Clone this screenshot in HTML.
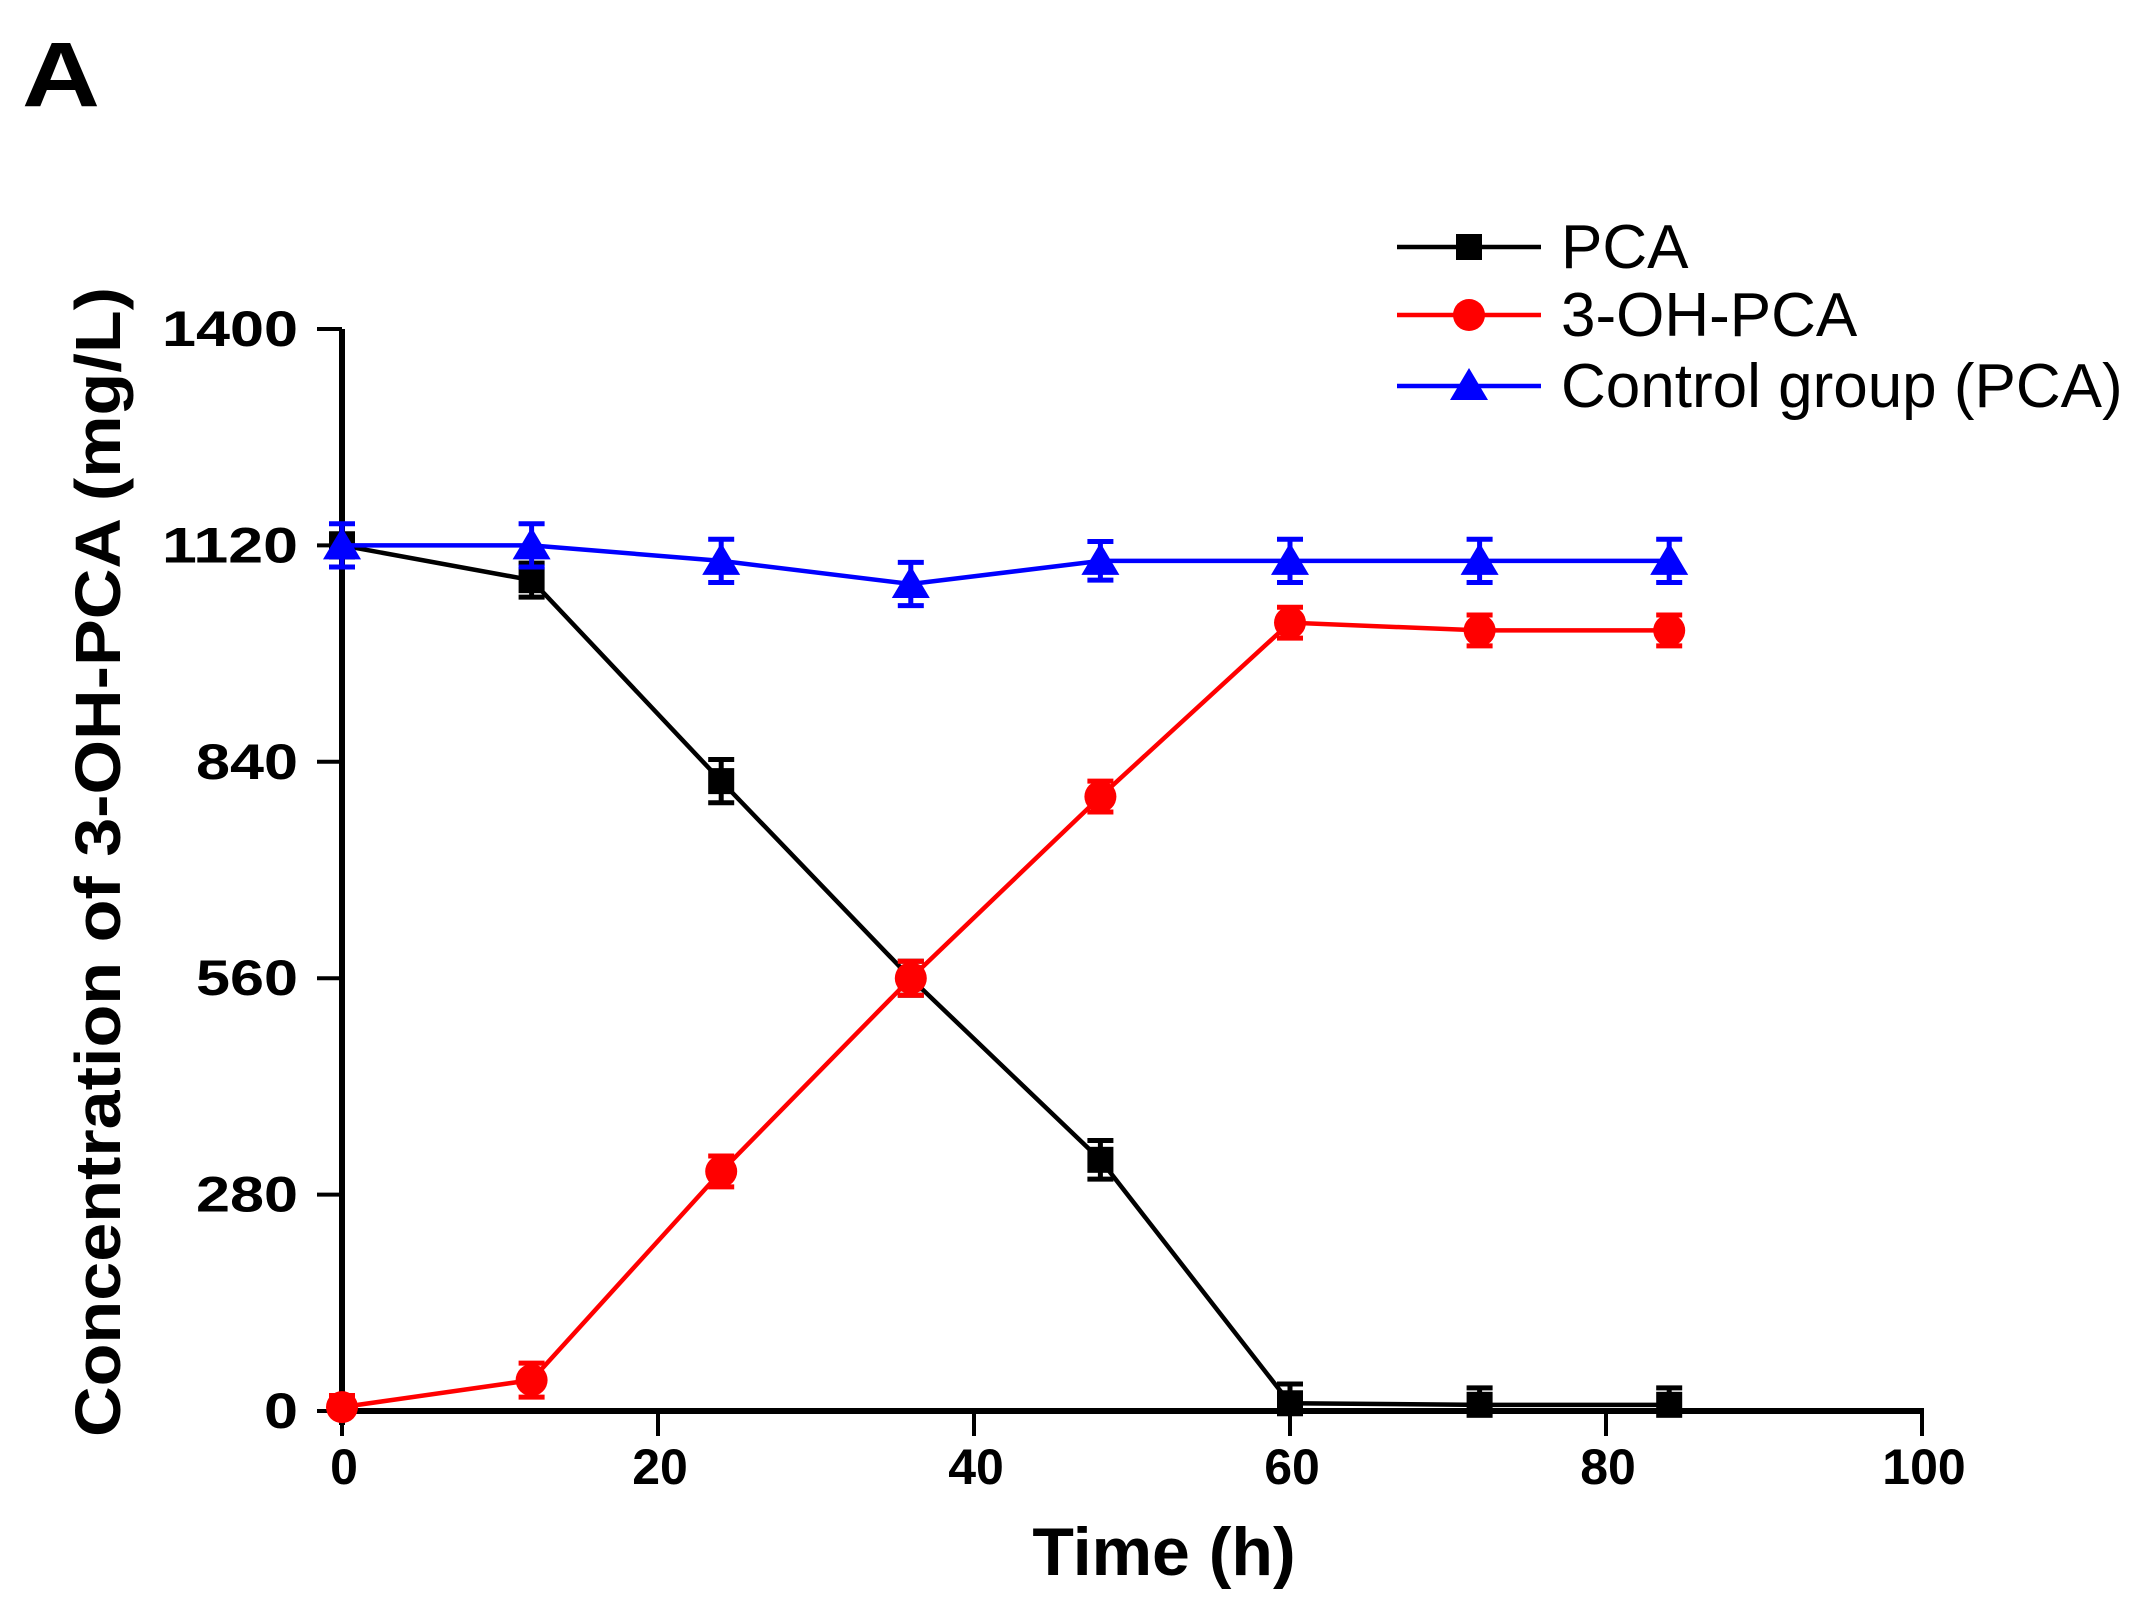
<!DOCTYPE html>
<html><head><meta charset="utf-8"><style>
html,body{margin:0;padding:0;background:#fff;}
svg{display:block;font-family:"Liberation Sans",Arial,sans-serif;}
</style></head><body>
<svg id="chart" width="2148" height="1617" viewBox="0 0 2148 1617">
<text x="22" y="106" font-size="92" font-weight="bold" textLength="78" lengthAdjust="spacingAndGlyphs">A</text>
<g id="axes"></g>
<g id="series"></g>
<g id="legend"></g>
</svg>
<script>
const times = [0, 12, 24, 36, 48, 60, 72, 84];
const pcaValues = [1120, 1075, 815, 560, 325, 10, 8, 8];
const pcaErrors = [15, 22, 28, 22, 25, 25, 22, 22];
const ohValues = [5, 40, 310, 560, 795, 1020, 1010, 1010];
const ohErrors = [15, 22, 20, 22, 20, 20, 20, 20];
const ctrlValues = [1120, 1120, 1100, 1070, 1100, 1100, 1100, 1100];
const ctrlErrors = [28, 28, 28, 28, 25, 28, 28, 28];
const yTicks = [0, 280, 560, 840, 1120, 1400];
const xTicks = [0, 20, 40, 60, 80, 100];
const legendLabels = ["PCA", "3-OH-PCA", "Control group (PCA)"];

const NS = "http://www.w3.org/2000/svg";
const X0 = 342, X1 = 1922, Y0 = 1411, Y1 = 329;
const xs = v => X0 + (v / 100) * (X1 - X0);
const ys = v => Y0 - (v / 1400) * (Y0 - Y1);
function mk(tag, attrs, parent) {
  const e = document.createElementNS(NS, tag);
  for (const k in attrs) e.setAttribute(k, attrs[k]);
  parent.appendChild(e);
  return e;
}
const axes = document.getElementById('axes');
const ser = document.getElementById('series');
const leg = document.getElementById('legend');

let a = mk('line', {x1: X0, y1: Y1, x2: X0, y2: Y0 + 14, stroke: '#000', 'stroke-width': 6}, axes);


a = mk('line', {x1: X0 - 14, y1: Y0, x2: X1 + 2, y2: Y0, stroke: '#000', 'stroke-width': 6}, axes);



yTicks.forEach(v => {
  const y = ys(v);
  const t = mk('line', {x1: X0 - 25, y1: y, x2: X0, y2: y, stroke: '#000', 'stroke-width': 4}, axes);
  
  
  const l = mk('text', {x: 298, y: y + 17, 'font-size': 50, 'font-weight': 'bold', 'text-anchor': 'end', textLength: String(v).length * 34, lengthAdjust: 'spacingAndGlyphs'}, axes);
  l.textContent = v;
  
  
});
xTicks.forEach(v => {
  const x = xs(v);
  const t = mk('line', {x1: x, y1: Y0, x2: x, y2: Y0 + 25, stroke: '#000', 'stroke-width': 4}, axes);
  
  
  const l = mk('text', {x: x + 2, y: 1484, 'font-size': 50, 'font-weight': 'bold', 'text-anchor': 'middle'}, axes);
  l.textContent = v;
  
  
});
let tt = mk('text', {x: 1164, y: 1575, 'font-size': 68, 'font-weight': 'bold', 'text-anchor': 'middle'}, axes);
tt.textContent = 'Time (h)';


tt = mk('text', {x: 0, y: 0, 'font-size': 64, 'font-weight': 'bold', 'text-anchor': 'middle', transform: 'translate(120,862) rotate(-90)', textLength: 1150, lengthAdjust: 'spacingAndGlyphs'}, axes);
tt.textContent = 'Concentration of 3-OH-PCA (mg/L)';



function marker(kind, cx, cy, color, parent) {
  let m;
  if (kind === 'square') m = mk('rect', {x: cx - 13, y: cy - 13, width: 26, height: 26, fill: color}, parent);
  else if (kind === 'circle') m = mk('circle', {cx: cx, cy: cy, r: 16, fill: color}, parent);
  else m = mk('polygon', {points: `${cx},${cy - 18} ${cx - 19},${cy + 14} ${cx + 19},${cy + 14}`, fill: color}, parent);
  return m;
}
const series = [
  {name: 'pca', vals: pcaValues, errs: pcaErrors, color: '#000', kind: 'square'},
  {name: 'oh-pca', vals: ohValues, errs: ohErrors, color: '#ff0000', kind: 'circle'},
  {name: 'control', vals: ctrlValues, errs: ctrlErrors, color: '#0000ff', kind: 'triangle'}
];
series.forEach(s => {
  const g = mk('g', {}, ser);
  
  
  const pts = times.map((t, i) => xs(t) + ',' + ys(s.vals[i])).join(' ');
  const pl = mk('polyline', {points: pts, fill: 'none', stroke: s.color, 'stroke-width': 4.5}, g);
  
  
  times.forEach((t, i) => {
    const x = xs(t), y = ys(s.vals[i]);
    const yt = ys(s.vals[i] + s.errs[i]), yb = ys(Math.max(0, s.vals[i] - s.errs[i]));
    const eb = mk('path', {d: `M${x},${yt}V${yb}M${x - 13},${yt}H${x + 13}M${x - 13},${yb}H${x + 13}`, stroke: s.color, 'stroke-width': 5, fill: 'none'}, g);
    
    
    const m = marker(s.kind, x, y, s.color, g);
    
    
  });
});
const legY = [247, 315, 386];
series.forEach((s, i) => {
  const g = mk('g', {}, leg);
  
  
  mk('line', {x1: 1397, y1: legY[i], x2: 1541, y2: legY[i], stroke: s.color, 'stroke-width': 4.5}, g);
  marker(s.kind, 1469, legY[i], s.color, g);
  const t = mk('text', {x: 1561, y: legY[i] + 21, 'font-size': 62}, g);
  t.textContent = legendLabels[i];
});
</script>
</body></html>
